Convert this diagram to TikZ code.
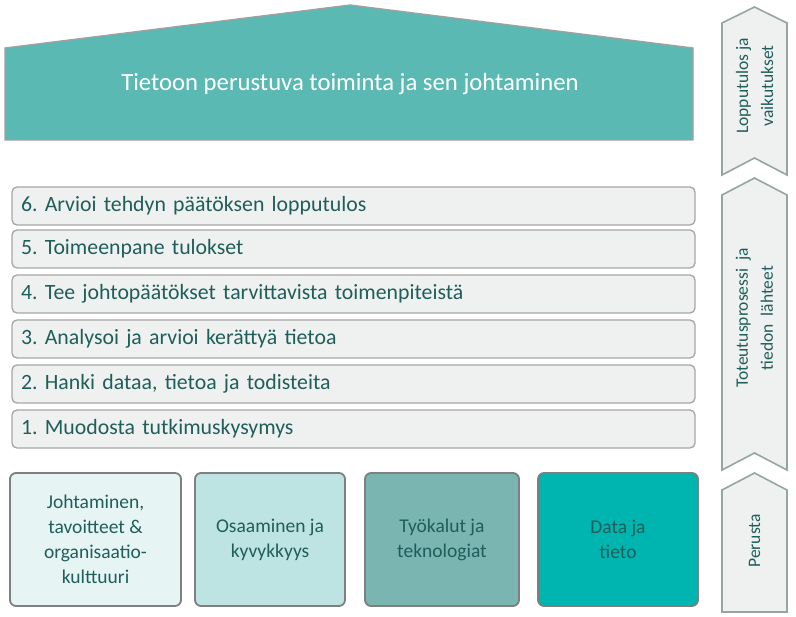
\documentclass[tikz,border=0pt]{standalone}
\usepackage{fontspec}
\setmainfont{Carlito}
\frenchspacing

\definecolor{roofteal}{RGB}{91,185,180}
\definecolor{roofedge}{RGB}{160,160,160}
\definecolor{tealtext}{RGB}{31,94,90}
\definecolor{barfill}{RGB}{238,241,240}
\definecolor{baredge}{RGB}{166,166,166}
\definecolor{boxedge}{RGB}{127,127,127}
\definecolor{chevedge}{RGB}{150,165,160}
\definecolor{baseA}{RGB}{230,244,244}
\definecolor{baseB}{RGB}{189,227,226}
\definecolor{baseC}{RGB}{122,181,178}
\definecolor{baseD}{RGB}{0,181,176}

\tikzset{
  stepbar/.style={draw=baredge, line width=1.3pt, fill=barfill, rounded corners=5pt,
    minimum width=683pt, minimum height=38pt, text width=665pt, inner xsep=9pt,
    align=left, text=tealtext, font=\fontsize{21.8}{24}\selectfont},
  basebox/.style={draw=boxedge, line width=1.8pt, rounded corners=6pt,
    minimum height=133pt, align=center, text=tealtext,
    font=\fontsize{19.5}{25}\selectfont},
  chevron/.style={draw=chevedge, line width=1.6pt, fill=barfill},
  sidelabel/.style={rotate=90, align=center, text=tealtext,
    font=\fontsize{17.5}{25}\selectfont}
}

\begin{document}
\begin{tikzpicture}[x=1pt, y=-1pt]

   \useasboundingbox (0,0) rectangle (796,617);

   % roof
   \draw[fill=roofteal, draw=roofedge, line width=1.3pt]
      (5,140) -- (5,48) -- (350,5) -- (693,48) -- (693,140) -- cycle;
   \node[text=white, font=\fontsize{24.7}{28}\selectfont] (roof) at (350,84)
      {Tietoon perustuva toiminta ja sen johtaminen};

   % steps
   \foreach \n/\y/\t in {6/206/{Arvioi tehdyn päätöksen lopputulos},
                         5/249/{Toimeenpane tulokset},
                         4/294/{Tee johtopäätökset tarvittavista toimenpiteistä},
                         3/339/{Analysoi ja arvioi kerättyä tietoa},
                         2/384/{Hanki dataa, tietoa ja todisteita},
                         1/429/{Muodosta tutkimuskysymys}}
     \node[stepbar] (bar\n) at (353.5,\y) {\n. \t};

   % base
   \foreach \i/\x/\w/\c/\t in {1/95.5/171/baseA/{Johtaminen,\\tavoitteet \&\\organisaatio-\\kulttuuri},
                               2/270/150/baseB/{Osaaminen ja\\kyvykkyys},
                               3/442/154/baseC/{Työkalut ja\\teknologiat},
                               4/618/160/baseD/{Data ja\\tieto}}
     \node[basebox, fill=\c, minimum width=\w pt] (base\i) at (\x,539.5) {\t};

   % side chevrons
   \foreach \tip/\sh/\bot/\notch in {7/23/175/158, 178/195/470/453, 473/490/612/612}
     \draw[chevron] (754.5,\tip) -- (787,\sh) -- (787,\bot) -- (754.5,\notch)
        -- (722,\bot) -- (722,\sh) -- cycle;

   \node[sidelabel] (result) at (754.5,86) {Lopputulos ja\\vaikutukset};
   \node[sidelabel] (process) at (754.5,318) {Toteutusprosessi\ \ ja\\tiedon\ \ lähteet};
   \node[sidelabel] (basis) at (754.5,541) {Perusta};

\end{tikzpicture}
\end{document}
